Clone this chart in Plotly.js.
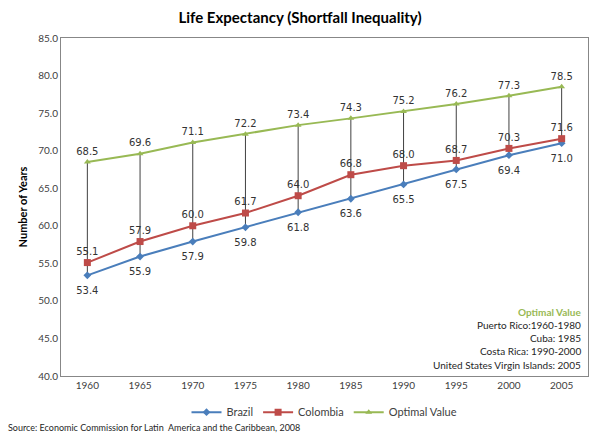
<!DOCTYPE html>
<html>
<head>
<meta charset="utf-8">
<script src="https://cdn.plot.ly/plotly-3.0.1.min.js"></script>
<style>html,body{margin:0;padding:0;background:#fff;}#chart{width:600px;height:435px;}</style>
</head>
<body>
<div id="chart"></div>
<script>
const years = ["1960","1965","1970","1975","1980","1985","1990","1995","2000","2005"];
const brazil = [53.4, 55.9, 57.9, 59.8, 61.8, 63.6, 65.5, 67.5, 69.4, 71.0];
const colombia = [55.1, 57.9, 60.0, 61.7, 64.0, 66.8, 68.0, 68.7, 70.3, 71.6];
const optimal = [68.5, 69.6, 71.1, 72.2, 73.4, 74.3, 75.2, 76.2, 77.3, 78.5];
const noteLines = ["Puerto Rico:1960-1980", "Cuba: 1985", "Costa Rica: 1990-2000", "United States Virgin Islands: 2005"];

const FONT = "Lato, 'Open Sans', sans-serif";
const LFONT = "'DejaVu Sans', Verdana, sans-serif";

const dropX = [], dropY = [];
years.forEach((y, i) => { dropX.push(y, y, y); dropY.push(brazil[i], optimal[i], null); });

const fmt = a => a.map(v => v.toFixed(1));

const traces = [
  {x: dropX, y: dropY, type: 'scatter', mode: 'lines', line: {color: '#404040', width: 1}, showlegend: false, hoverinfo: 'skip', connectgaps: false},
  {x: years, y: brazil, name: 'Brazil', type: 'scatter', mode: 'lines+markers',
   line: {color: '#4A7EBB', width: 2}, marker: {symbol: 'diamond', size: 6, color: '#4A7EBB'}},
  {x: years, y: brazil, type: 'scatter', mode: 'markers+text', showlegend: false, hoverinfo: 'skip',
   marker: {size: 16, opacity: 0, color: '#4A7EBB'},
   text: fmt(brazil), textposition: 'bottom center', textfont: {family: LFONT, size: 10, color: '#333'}},
  {x: years, y: colombia, name: 'Colombia', type: 'scatter', mode: 'lines+markers+text',
   line: {color: '#BE4B48', width: 2}, marker: {symbol: 'square', size: 7, color: '#BE4B48'},
   text: fmt(colombia), textposition: 'top center', textfont: {family: LFONT, size: 10, color: '#333'}},
  {x: years, y: optimal, name: 'Optimal Value', type: 'scatter', mode: 'lines+markers+text',
   line: {color: '#98B954', width: 2}, marker: {symbol: 'triangle-up', size: 6, color: '#98B954'},
   text: fmt(optimal), textposition: 'top center', textfont: {family: LFONT, size: 10, color: '#333'}}
];

const annotations = [
  {xref: 'paper', yref: 'paper', x: 0.99, y: 0.189, xanchor: 'right', yanchor: 'middle', showarrow: false,
   text: '<b>Optimal Value</b>', font: {family: FONT, size: 10, color: '#98B954'}},
];
noteLines.forEach((t, i) => annotations.push({
  xref: 'paper', yref: 'paper', x: 0.99, y: 0.151 - i * 0.039, xanchor: 'right', yanchor: 'middle', showarrow: false,
  text: t, font: {family: FONT, size: 10, color: '#262626'}
}));
annotations.push({xref: 'paper', yref: 'paper', x: -0.104, y: -0.151, xanchor: 'left', yanchor: 'middle', showarrow: false,
  text: 'Source: Economic Commission for Latin  America and the Caribbean, 2008', font: {family: FONT, size: 9, color: '#262626'}});

const layout = {
  width: 600, height: 435,
  margin: {l: 61, r: 12, t: 38, b: 59, autoexpand: false},
  paper_bgcolor: '#fff', plot_bgcolor: '#fff',
  font: {family: FONT, color: '#404040'},
  title: {text: '<b>Life Expectancy (Shortfall Inequality)</b>', x: 0.5, xanchor: 'center', y: 0.96, yanchor: 'middle',
          font: {family: FONT, size: 15, color: '#000'}},
  xaxis: {type: 'category', range: [-0.5, years.length - 0.5], showline: true, mirror: true, linecolor: '#878787', linewidth: 1, showgrid: false,
          ticks: '', tickfont: {family: FONT, size: 10, color: '#404040'}, zeroline: false},
  yaxis: {range: [40, 85], dtick: 5, tickformat: '.1f', showline: true, mirror: true, linecolor: '#878787', linewidth: 1,
          showgrid: false, zeroline: false, ticks: '', tickfont: {family: FONT, size: 10, color: '#404040'},
          title: {text: '<b>Number of Years</b>', font: {family: FONT, size: 11, color: '#000'}, standoff: 8}},
  legend: {orientation: 'h', x: 0.5, xanchor: 'center', y: -0.107, yanchor: 'middle', font: {family: FONT, size: 11, color: '#404040'}},
  annotations: annotations,
  showlegend: true
};

Plotly.newPlot('chart', traces, layout, {displayModeBar: false, staticPlot: true});
</script>
</body>
</html>
